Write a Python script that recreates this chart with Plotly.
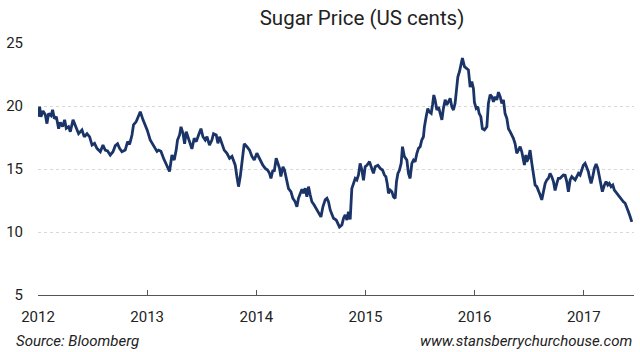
import plotly.graph_objects as go

# Decimal year and sugar price (US cents per lb)
years = [
    2012.000, 2012.015, 2012.027, 2012.046, 2012.067, 2012.082, 2012.097, 2012.119, 2012.134, 2012.149,
    2012.168, 2012.189, 2012.204, 2012.225, 2012.244, 2012.259, 2012.280, 2012.296, 2012.321, 2012.342,
    2012.372, 2012.403, 2012.424, 2012.449, 2012.473, 2012.495, 2012.518, 2012.540, 2012.571, 2012.595,
    2012.616, 2012.637, 2012.662, 2012.687, 2012.708, 2012.729, 2012.747, 2012.769, 2012.799, 2012.821,
    2012.839, 2012.861, 2012.875, 2012.900, 2012.921, 2012.937, 2012.962, 2012.983,
    2013.000, 2013.028, 2013.059, 2013.090, 2013.104, 2013.126, 2013.150, 2013.181, 2013.205, 2013.227,
    2013.248, 2013.266, 2013.278, 2013.297, 2013.310, 2013.328, 2013.343, 2013.358, 2013.374, 2013.388,
    2013.410, 2013.431, 2013.450, 2013.471, 2013.493, 2013.511, 2013.532, 2013.548, 2013.571, 2013.593,
    2013.608, 2013.633, 2013.648, 2013.663, 2013.685, 2013.706, 2013.731, 2013.755, 2013.777, 2013.791,
    2013.807, 2013.822, 2013.837, 2013.853, 2013.868, 2013.889, 2013.914, 2013.938, 2013.960, 2013.981,
    2014.005, 2014.020, 2014.036, 2014.060, 2014.082, 2014.103, 2014.121, 2014.134, 2014.152, 2014.164,
    2014.182, 2014.194, 2014.213, 2014.225, 2014.244, 2014.258, 2014.274, 2014.295, 2014.317, 2014.335,
    2014.356, 2014.372, 2014.386, 2014.402, 2014.418, 2014.432, 2014.448, 2014.463, 2014.478, 2014.494,
    2014.509, 2014.530, 2014.549, 2014.570, 2014.592, 2014.610, 2014.631, 2014.647, 2014.661, 2014.677,
    2014.692, 2014.707, 2014.732, 2014.747, 2014.762, 2014.784, 2014.799, 2014.814, 2014.830, 2014.844,
    2014.860, 2014.875, 2014.890, 2014.906, 2014.921, 2014.936, 2014.951, 2014.967, 2014.982, 2014.997,
    2015.013, 2015.037, 2015.052, 2015.073, 2015.089, 2015.114, 2015.135, 2015.156, 2015.174, 2015.187,
    2015.199, 2015.211, 2015.226, 2015.242, 2015.256, 2015.272, 2015.284, 2015.297, 2015.311, 2015.327,
    2015.339, 2015.357, 2015.379, 2015.394, 2015.409, 2015.425, 2015.440, 2015.455, 2015.471, 2015.486,
    2015.501, 2015.516, 2015.531, 2015.540, 2015.556, 2015.571, 2015.583, 2015.602, 2015.614, 2015.626,
    2015.638, 2015.654, 2015.669, 2015.684, 2015.700, 2015.714, 2015.730, 2015.745, 2015.760, 2015.776,
    2015.791, 2015.806, 2015.821, 2015.833, 2015.846, 2015.861, 2015.876, 2015.888, 2015.907, 2015.929,
    2015.943, 2015.959, 2015.974, 2015.989, 2015.998,
    2016.014, 2016.029, 2016.041, 2016.057, 2016.071, 2016.090, 2016.112, 2016.126, 2016.142, 2016.158,
    2016.172, 2016.188, 2016.203, 2016.218, 2016.234, 2016.249, 2016.264, 2016.279, 2016.295, 2016.310,
    2016.325, 2016.341, 2016.355, 2016.371, 2016.386, 2016.401, 2016.417, 2016.432, 2016.447, 2016.456,
    2016.469, 2016.478, 2016.493, 2016.508, 2016.524, 2016.539, 2016.554, 2016.570, 2016.584, 2016.600,
    2016.615, 2016.630, 2016.646, 2016.661, 2016.676, 2016.691, 2016.707, 2016.722, 2016.737, 2016.753,
    2016.767, 2016.783, 2016.798, 2016.813,
    2016.829, 2016.844, 2016.859, 2016.875, 2016.890, 2016.905, 2016.921, 2016.936, 2016.951, 2016.966,
    2016.982, 2016.996, 2017.012, 2017.027, 2017.042, 2017.051, 2017.067, 2017.082, 2017.097, 2017.113,
    2017.128, 2017.143, 2017.159, 2017.170, 2017.189, 2017.204, 2017.220, 2017.234, 2017.250, 2017.266,
    2017.280, 2017.302, 2017.317, 2017.333, 2017.348, 2017.363, 2017.379, 2017.394, 2017.409, 2017.425,
    2017.440,
]

price = [
    19.15, 19.95, 19.15, 19.60, 19.30, 18.60, 19.40, 19.23, 19.70, 19.00,
    19.15, 18.20, 18.70, 18.36, 18.90, 18.23, 18.36, 17.96, 18.90, 18.50,
    17.80, 18.10, 17.55, 17.80, 17.55, 16.90, 17.04, 16.64, 16.37, 16.90,
    16.50, 16.43, 16.10, 16.37, 16.85, 17.00, 16.64, 16.37, 16.50, 17.17,
    16.96, 17.70, 18.50, 18.76, 19.30, 19.55, 18.90, 18.50,
    18.10, 17.30, 16.80, 16.40, 16.50, 16.40, 15.85, 15.30, 14.80, 16.11,
    15.71, 16.50, 17.30, 17.70, 18.35, 17.83, 17.00, 17.96, 17.56, 17.17,
    16.60, 17.44, 17.17, 17.70, 18.20, 17.56, 17.30, 17.56, 16.90, 17.30,
    17.80, 17.70, 17.04, 17.56, 17.04, 16.50, 16.25, 15.85, 16.00, 15.71,
    15.30, 14.40, 13.60, 14.40, 15.71, 17.00, 16.77, 16.50, 16.00, 15.71,
    16.25, 15.98, 15.71, 15.30, 15.05, 14.92, 14.65, 14.25, 14.92, 14.79,
    15.85, 15.45, 15.05, 14.40, 15.18, 14.92, 14.26, 13.45, 13.20, 12.67,
    12.40, 12.00, 12.67, 13.07, 13.40, 13.07, 13.47, 12.80, 13.60, 12.94,
    12.40, 12.14, 11.88, 11.50, 11.20, 12.00, 12.55, 12.67, 12.40, 11.75,
    11.48, 11.09, 10.95, 10.70, 10.40, 10.56, 11.10, 11.35, 10.95, 11.60,
    11.00, 13.45, 13.86, 14.25, 14.13, 14.52, 15.45, 14.92, 14.10, 15.18,
    15.30, 15.58, 15.18, 14.65, 15.18, 15.30, 15.05, 14.92, 14.52, 14.39,
    13.86, 13.07, 13.33, 13.20, 12.80, 12.67, 13.99, 14.65, 14.90, 15.45,
    16.77, 15.98, 15.71, 14.65, 14.25, 15.45, 15.71, 15.58, 16.25, 16.64,
    16.77, 17.30, 17.56, 18.36, 19.15, 19.80, 19.55, 19.42, 20.08, 20.87,
    20.48, 19.68, 19.94, 19.42, 18.90, 19.81, 20.50, 20.08, 20.34, 20.61,
    19.94, 19.68, 20.21, 21.54, 22.30, 22.72, 23.40, 23.80, 23.12, 22.99,
    22.86, 21.50, 21.93, 21.40, 20.30,
    19.81, 19.94, 19.42, 19.15, 18.20, 18.10, 18.36, 20.20, 20.90, 20.74,
    20.34, 20.74, 20.48, 21.10, 20.74, 20.21, 20.48, 19.40, 19.02, 18.20,
    17.96, 17.70, 17.44, 17.00, 16.25, 16.50, 16.77, 16.37, 15.85, 15.32,
    16.11, 15.58, 15.85, 16.50, 15.45, 14.40, 13.73, 13.60, 13.33, 12.94,
    12.55, 13.33, 13.86, 14.13, 14.26, 14.65, 14.39, 14.00, 13.30, 13.86,
    14.26, 14.26, 14.39, 14.52,
    14.50, 14.00, 13.20, 14.13, 14.39, 14.26, 14.13, 14.39, 14.65, 14.52,
    15.05, 15.30, 15.45, 15.18, 14.79, 14.39, 13.86, 14.39, 15.05, 15.40,
    15.05, 14.39, 13.73, 13.20, 13.73, 14.00, 13.73, 13.86, 13.60, 13.73,
    13.33, 13.07, 12.94, 12.67, 12.55, 12.40, 12.28, 12.00, 11.60, 11.21,
    10.80,
]

year_ticks = [2012, 2013, 2014, 2015, 2016, 2017]
year_labels = ["2012", "2013", "2014", "2015", "2016", "2017"]
y_ticks = [5, 10, 15, 20, 25]

title_text = "Sugar Price (US cents)"
source_text = "Source: Bloomberg"
site_text = "www.stansberrychurchouse.com"

fig = go.Figure()
fig.add_trace(go.Scatter(
    x=years, y=price, mode="lines",
    line=dict(color="#1b3468", width=2.8),
    hoverinfo="skip", showlegend=False,
))

font_family = "Roboto, 'Noto Sans', sans-serif"

fig.update_layout(
    width=640, height=352,
    margin=dict(l=38, r=6, t=43, b=57),
    paper_bgcolor="white", plot_bgcolor="white",
    font=dict(family=font_family, color="#222222"),
    title=dict(text=title_text, xref="container", yref="container",
               x=362 / 640, y=1 - 18 / 352, xanchor="center", yanchor="middle",
               font=dict(size=20.5, color="#222222", family=font_family)),
    xaxis=dict(
        range=[2012, 2017.46], tickvals=year_ticks, ticktext=year_labels,
        showgrid=False, zeroline=False,
        showline=True, linecolor="#555555", linewidth=1,
        ticks="inside", ticklen=5, tickcolor="#555555", tickwidth=1,
        tickfont=dict(size=15, color="#222222"), ticklabelstandoff=8,
    ),
    yaxis=dict(
        range=[5, 25], tickvals=y_ticks,
        showgrid=True, gridcolor="#d8d8d8", griddash="dot", gridwidth=1,
        zeroline=False, showline=False, ticks="",
        tickfont=dict(size=15, color="#222222"), ticklabelstandoff=14,
    ),
    annotations=[
        dict(text="<i>" + source_text + "</i>", xref="paper", yref="paper",
             x=(14 - 38) / 596, y=(295 - 341) / 252, xanchor="left", yanchor="middle",
             showarrow=False, font=dict(size=15, color="#222222")),
        dict(text="<i>" + site_text + "</i>", xref="paper", yref="paper",
             x=1.0, y=(295 - 341) / 252, xanchor="right", yanchor="middle",
             showarrow=False, font=dict(size=15, color="#222222")),
    ],
)

fig.write_html("out.html")
